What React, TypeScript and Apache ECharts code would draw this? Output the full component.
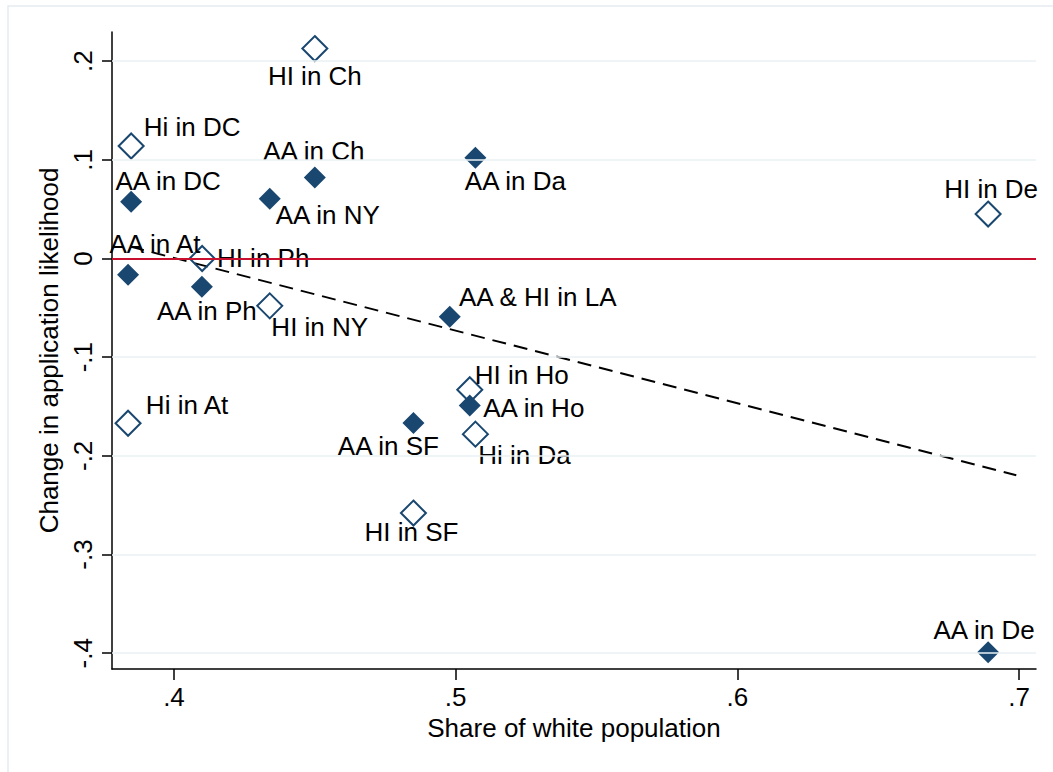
import React, { useEffect, useRef } from "react";
import * as echarts from "echarts";

// Filled diamonds (AA)
const aaNames = ["AA in DC", "AA in At", "AA in Ph", "AA in NY", "AA in Ch", "AA in Da", "AA & HI in LA", "AA in SF", "AA in Ho", "AA in De"];
const aaX = [0.3848, 0.3837, 0.4099, 0.434, 0.450, 0.507, 0.4979, 0.485, 0.505, 0.689];
const aaY = [0.0575, -0.0166, -0.0287, 0.0605, 0.082, 0.102, -0.059, -0.1667, -0.149, -0.399];

// Hollow diamonds (HI)
const hiNames = ["HI in Ch", "Hi in DC", "HI in Ph", "HI in NY", "Hi in At", "HI in Ho", "Hi in Da", "HI in SF", "HI in De"];
const hiX = [0.450, 0.3848, 0.410, 0.434, 0.3837, 0.505, 0.507, 0.485, 0.689];
const hiY = [0.2127, 0.114, 0.0, -0.048, -0.167, -0.133, -0.178, -0.258, 0.045];

// Fitted line end points
const fitX = [0.3845, 0.699];
const fitY = [0.012, -0.2197];

const yTicks = [-0.4, -0.3, -0.2, -0.1, 0, 0.1, 0.2];
const xTicks = [0.4, 0.5, 0.6, 0.7];
const zeroLine = 0;

// label offsets (pixels, relative to marker centre)
const aaLabelOffsets = [[37, -21], [27, -31], [5, 24], [58, 16], [-1, -27], [40, 23], [88, -20], [-25, 23], [64, 2], [-4, -22]];
const hiLabelOffsets = [[0, 27], [61, -19], [61, 0], [50, 21], [59, -18], [52, -15], [49, 21], [-2, 19], [3, -25]];

const FONT = "'Liberation Sans', Arial, Helvetica, sans-serif";
const NAVY = "#1a476f";
const GRID = "#eaf2f3";

const fmt = (v: number) => {
  if (Math.abs(v) < 1e-9) return "0";
  return v.toFixed(1).replace(/^(-?)0\./, "$1.");
};

export default function App() {
  const ref = useRef<HTMLDivElement>(null);
  useEffect(() => {
    document.body.style.margin = "0";
    if (!ref.current) return;
    const chart = echarts.init(ref.current, undefined, { renderer: "svg" });
    const labelBase = {
      show: true,
      position: "inside",
      formatter: "{b}",
      color: "#000",
      opacity: 1,
      fontSize: 26,
      fontFamily: FONT,
      align: "center",
      verticalAlign: "middle",
    };
    chart.setOption({
      animation: false,
      backgroundColor: "#fff",
      textStyle: { fontFamily: FONT },
      graphic: [
        {
          type: "rect",
          shape: { x: 8, y: 6, width: 1100, height: 820 },
          style: { fill: "none", stroke: "#e3ebef", lineWidth: 1.5 },
          silent: true,
        },
      ],
      grid: { left: 112, right: 17, top: 32, bottom: 103, containLabel: false },
      xAxis: {
        type: "value",
        min: 0.378,
        max: 0.706,
        name: "Share of white population",
        nameLocation: "middle",
        nameGap: 43,
        nameTextStyle: { fontSize: 26, color: "#000", fontFamily: FONT },
        axisLine: { show: true, onZero: false, lineStyle: { color: "#000", width: 1.5 } },
        axisTick: { show: true, length: 11, customValues: xTicks, lineStyle: { color: "#000", width: 1.5 } },
        axisLabel: { customValues: xTicks, formatter: fmt, fontSize: 26, color: "#000", margin: 15, fontFamily: FONT },
        splitLine: { show: false },
      },
      yAxis: {
        type: "value",
        min: -0.416,
        max: 0.2295,
        name: "Change in application likelihood",
        nameLocation: "middle",
        nameGap: 47,
        nameTextStyle: { fontSize: 26, color: "#000", fontFamily: FONT },
        axisLine: { show: true, onZero: false, lineStyle: { color: "#000", width: 1.5 } },
        axisTick: { show: true, length: 10, customValues: yTicks, lineStyle: { color: "#000", width: 1.5 } },
        axisLabel: { customValues: yTicks, formatter: fmt, rotate: 90, fontSize: 26, color: "#000", margin: 16, fontFamily: FONT },
        splitLine: { show: false },
      },
      series: [
        {
          type: "line",
          data: [],
          silent: true,
          z: 1,
          markLine: {
            silent: true,
            symbol: "none",
            label: { show: false },
            lineStyle: { color: GRID, width: 1.5, type: "solid" },
            data: yTicks.map((v) => ({ yAxis: v })),
          },
        },
        {
          type: "line",
          data: [],
          silent: true,
          z: 2,
          markLine: {
            silent: true,
            symbol: "none",
            label: { show: false },
            lineStyle: { color: "#c8102e", width: 2, type: "solid" },
            data: [{ yAxis: zeroLine }],
          },
        },
        {
          type: "line",
          z: 3,
          symbol: "none",
          silent: true,
          data: fitX.map((x, i) => [x, fitY[i]]),
          lineStyle: { color: "#000", width: 2, type: [14, 8] },
        },
        {
          type: "scatter",
          z: 4,
          symbol: "diamond",
          symbolSize: 22,
          itemStyle: { color: NAVY, opacity: 1 },
          label: labelBase,
          data: aaNames.map((n, i) => ({
            name: n,
            value: [aaX[i], aaY[i]],
            label: { offset: aaLabelOffsets[i] },
          })),
        },
        {
          type: "scatter",
          z: 4,
          symbol: "diamond",
          symbolSize: 25,
          itemStyle: { color: "rgba(255,255,255,0)", borderColor: NAVY, borderWidth: 2, opacity: 1 },
          label: labelBase,
          data: hiNames.map((n, i) => ({
            name: n,
            value: [hiX[i], hiY[i]],
            label: { offset: hiLabelOffsets[i] },
          })),
        },
      ],
    });
    return () => chart.dispose();
  }, []);
  return <div ref={ref} style={{ width: 1053, height: 772 }} />;
}
